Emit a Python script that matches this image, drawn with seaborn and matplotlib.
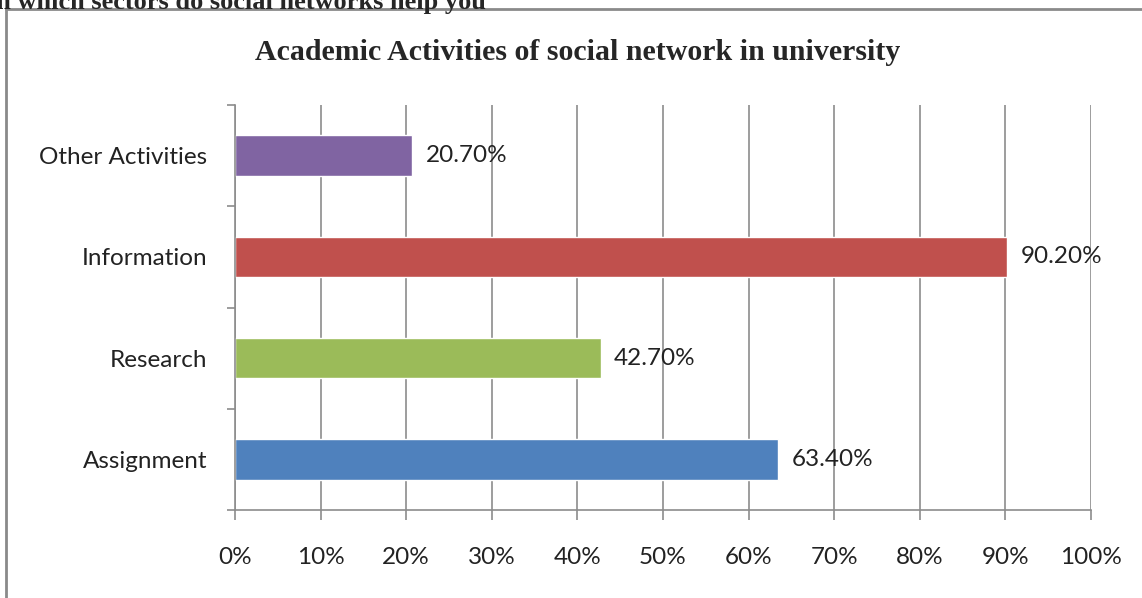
import matplotlib
matplotlib.use('Agg')

import matplotlib.pyplot as plt
import seaborn as sns
import pandas as pd
from matplotlib.lines import Line2D
from matplotlib.ticker import MultipleLocator, PercentFormatter

# -----------------------------
# DATA
# -----------------------------
activities = ["Other Activities", "Information", "Research", "Assignment"]
percentages = [20.7, 90.2, 42.7, 63.4]
bar_colors = ["#8064A2", "#C0504D", "#9BBB59", "#4F81BD"]
x_ticks = [0, 10, 20, 30, 40, 50, 60, 70, 80, 90, 100]

df = pd.DataFrame({"Activity": activities, "Percent": percentages})

sns.set_style("white")
plt.rcParams['font.family'] = ['Lato', 'DejaVu Sans']

fig = plt.figure(figsize=(11.42, 5.98), dpi=100)
ax = fig.add_axes([235 / 1142, 1 - 510 / 598, (1091 - 235) / 1142, (510 - 105) / 598])

sns.barplot(data=df, y="Activity", x="Percent", hue="Activity",
            palette=bar_colors, order=activities, width=0.4,
            saturation=1, legend=False, ax=ax)

ax.set_xlim(0, 100)
ax.set_ylim(3.5, -0.5)
ax.set_xticks(x_ticks)
ax.xaxis.set_major_formatter(PercentFormatter(decimals=0))
ax.grid(axis="x", color="#8c8c8c", linewidth=1.2)
ax.set_axisbelow(True)
ax.set_xlabel("")
ax.set_ylabel("")

for side in ["top", "right"]:
    ax.spines[side].set_visible(False)
for side in ["left", "bottom"]:
    ax.spines[side].set_color("#8c8c8c")
    ax.spines[side].set_linewidth(1.2)

ax.tick_params(axis="x", length=7, width=1.2, color="#8c8c8c", pad=20,
               labelsize=17.5, labelcolor="#222222", bottom=True)
ax.tick_params(axis="y", which="major", length=0, pad=20,
               labelsize=17.5, labelcolor="#222222")
ax.yaxis.set_minor_locator(MultipleLocator(1, offset=0.5))
ax.tick_params(axis="y", which="minor", length=6, width=1.2,
               color="#8c8c8c", left=True)

# value labels
for i, v in enumerate(percentages):
    ax.text(v + 1.6, i, f"{v:.2f}%", va="center", ha="left",
            fontsize=17.5, color="#222222")

# title
fig.text(578 / 1142, 1 - 53 / 598, "Academic Activities of social network in university",
         ha="center", va="center", fontsize=21.5, fontweight="bold",
         family="Liberation Serif")

# cut-off heading at the very top (cropped in the source image)
fig.text(-0.012, 1 - 9 / 598, "In which sectors do social networks help you",
         ha="left", va="baseline", fontsize=19, fontweight="bold",
         family="Liberation Serif")

# outer chart frame
fig.add_artist(Line2D([6 / 1142, 6 / 1142], [0, 1 - 9 / 598],
                      transform=fig.transFigure, color="#8a8a8a", linewidth=2))
fig.add_artist(Line2D([6 / 1142, 1], [1 - 9 / 598, 1 - 9 / 598],
                      transform=fig.transFigure, color="#8a8a8a", linewidth=2))

plt.savefig("out.png", dpi=100)
plt.close()
